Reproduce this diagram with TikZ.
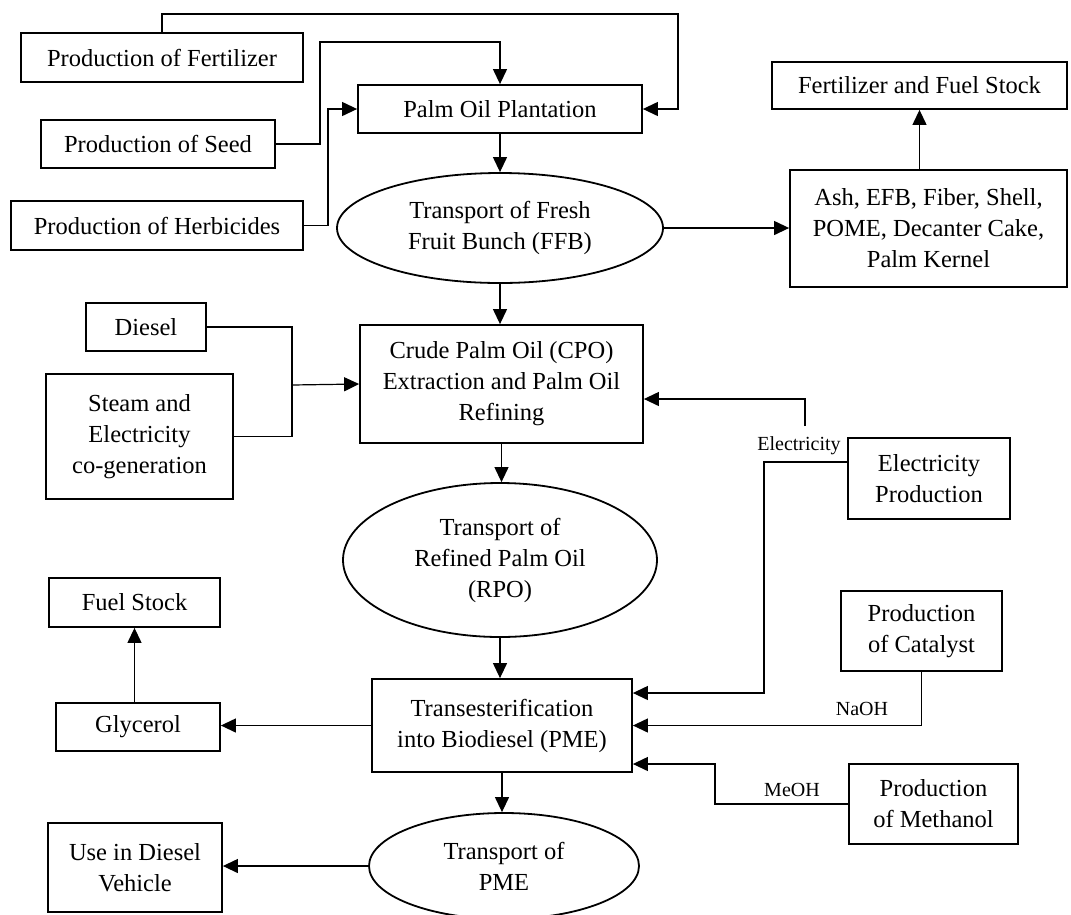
\documentclass[tikz,border=0pt]{standalone}
\usepackage{fontspec}
\setmainfont{Liberation Serif}
\usetikzlibrary{arrows.meta,shapes.geometric,calc}
\begin{document}
\begin{tikzpicture}[x=1pt,y=-1pt,
  txt/.style={font=\fontsize{24.5}{31}\selectfont, align=center, inner sep=0pt},
  box/.style={txt, draw, line width=1.8pt, rectangle},
  oval/.style={txt, draw, line width=1.8pt, ellipse},
  lbl/.style={font=\fontsize{20}{24}\selectfont, inner sep=0pt},
  line/.style={line width=1.2pt},
  arr/.style={line, -{Triangle[length=15pt,width=14pt]}}]
\useasboundingbox (0,0) rectangle (1071,914);
\clip (0,0) rectangle (1071,914);
% nodes
\node[box, minimum width=282, minimum height=49] (fert) at (162,57.5) {Production of Fertilizer};
\node[box, minimum width=284, minimum height=48] (palm) at (500,109) {Palm Oil Plantation};
\node[box, minimum width=234, minimum height=48] (seed) at (158,144) {Production of Seed};
\node[box, minimum width=292, minimum height=49] (herb) at (157,225.5) {Production of Herbicides};
\node[box, minimum width=295, minimum height=47] (ffs) at (919.5,85.5) {Fertilizer and Fuel Stock};
\node[box, minimum width=277, minimum height=117] (ash) at (928.5,228.5) {Ash, EFB, Fiber, Shell,\\POME, Decanter Cake,\\Palm Kernel};
\node[oval, minimum width=326, minimum height=110] (ffb) at (500,228) {Transport of Fresh\\Fruit Bunch (FFB)};
\node[box, minimum width=120, minimum height=48] (diesel) at (146,327) {Diesel};
\node[box, minimum width=187, minimum height=125] (steam) at (139.5,436.5) {Steam and\\Electricity\\co-generation};
\node[box, minimum width=283, minimum height=118] (cpo) at (501.5,384) {Crude Palm Oil (CPO)\\Extraction and Palm Oil\\Refining};
\node[box, minimum width=162, minimum height=81] (ep) at (929,478.5) {Electricity\\Production};
\node[lbl] (elab) at (799,446) {Electricity};
\node[oval, minimum width=314, minimum height=154] (rpo) at (500,560) {Transport of\\Refined Palm Oil\\(RPO)};
\node[box, minimum width=171, minimum height=49] (fuel) at (134.5,602.5) {Fuel Stock};
\node[box, minimum width=161, minimum height=80] (cat) at (921.5,631) {Production\\of Catalyst};
\node[box, minimum width=164, minimum height=48] (glyc) at (138,727) {Glycerol};
\node[box, minimum width=260, minimum height=93] (trans) at (502,725.5) {Transesterification\\into Biodiesel (PME)};
\node[lbl] (naoh) at (862,709) {NaOH};
\node[box, minimum width=169, minimum height=80] (meth) at (933.5,804) {Production\\of Methanol};
\node[lbl] (meoh) at (792,790) {MeOH};
\node[oval, minimum width=270, minimum height=106] (pme) at (504,866) {Transport of\\PME};
\node[box, minimum width=174, minimum height=89] (use) at (135,867.5) {Use in Diesel\\Vehicle};
% helper coordinates
\coordinate (c1) at (678,14);
\coordinate (c2) at (320,42);
\coordinate (c3) at (328,109);
\coordinate (c4) at (292,385);
\coordinate (c5) at (805,426);
\coordinate (c6) at (805,399);
\coordinate (c7a) at (764,462);
\coordinate (c7b) at (764,693);
\coordinate (c10) at (715,764);
% connectors
\draw[arr] (fert.north) |- (c1) |- (palm.east);
\draw[arr] (seed.east) -| (c2) -| (palm.north);
\draw[arr] (herb.east) -| (c3) -- (palm.west);
\draw[arr] (ffb.north |- palm.south) -- (ffb.north);
\draw[arr] (ffb.east) -- (ash.west |- ffb.east);
\draw[arr] (ash.north -| ffs.south) -- (ffs.south);
\draw[arr] (ffb.south) -- (ffb.south |- cpo.north);
\draw[line] (diesel.east) -| (c4) |- (steam.east);
\draw[arr] (c4) -- (cpo.west);
\draw[arr] (c5) -- (c6) -- (cpo.east |- c6);
\draw[arr] (c7a -| ep.west) -- (c7a) -- (c7b) -- (c7b -| trans.east);
\draw[arr] (cat.south) |- (trans.east);
\draw[arr] (meth.west) -| (c10) -- (c10 -| trans.east);
\draw[arr] (cpo.south) -- (cpo.south |- rpo.north);
\draw[arr] (rpo.south) -- (rpo.south |- trans.north);
\draw[arr] (trans.west) -- (glyc.east |- trans.west);
\draw[arr] (fuel.south |- glyc.north) -- (fuel.south);
\draw[arr] (trans.south) -- (trans.south |- pme.north);
\draw[arr] (pme.west) -- (use.east |- pme.west);
\end{tikzpicture}
\end{document}
